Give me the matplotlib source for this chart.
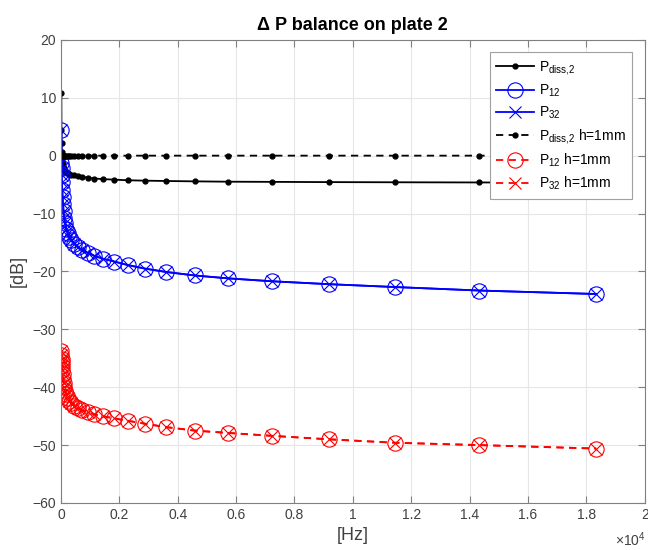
import numpy as np
import matplotlib.pyplot as plt
from matplotlib.ticker import FuncFormatter

plt.rcParams['font.family'] = ['Liberation Sans', 'DejaVu Sans']
plt.rcParams['mathtext.fontset'] = 'custom'
plt.rcParams['mathtext.rm'] = 'Liberation Sans'

# third-octave frequencies [Hz]
freq = [14.3, 18.3, 22.9, 28.7, 36.1, 45.8, 57.3, 72.2, 91.7, 115, 143, 183,
        229, 287, 361, 458, 573, 722, 917, 1146, 1433, 1834, 2292, 2865,
        3610, 4584, 5730, 7220, 9168, 11460, 14330, 18336]

# power balance [dB]
p_diss = [10.8, 4.5, 2.2, 0.6, -0.3, -1.0, -1.5, -1.9, -2.2, -2.5, -2.7, -2.9,
          -3.05, -3.2, -3.3, -3.4, -3.5, -3.65, -3.8, -3.95, -4.05, -4.15, -4.25, -4.32,
          -4.38, -4.44, -4.5, -4.53, -4.57, -4.6, -4.63, -4.66]
p12 = [4.5, -1.3, -2.2, -3.3, -4.6, -5.9, -7.1, -8.4, -9.6, -10.7, -11.7, -12.6,
       -13.4, -14.0, -14.6, -15.2, -15.8, -16.3, -16.8, -17.3, -17.8, -18.3, -18.9, -19.5,
       -20.1, -20.7, -21.2, -21.7, -22.2, -22.7, -23.3, -23.9]
p32 = [4.5, -1.3, -2.2, -3.3, -4.6, -5.9, -7.1, -8.4, -9.6, -10.7, -11.7, -12.6,
       -13.4, -14.0, -14.6, -15.2, -15.8, -16.3, -16.8, -17.3, -17.8, -18.3, -18.9, -19.5,
       -20.1, -20.7, -21.2, -21.7, -22.2, -22.7, -23.3, -23.9]

# same quantities with h = 1 mm
p_diss_h1 = [0.3, 0.2, 0.15, 0.1, 0.1, 0.05, 0.05, 0.0, 0.0, 0.0, 0.0, 0.0,
             0.0, 0.0, 0.0, 0.0, 0.0, 0.0, 0.0, 0.0, 0.0, 0.0, 0.0, 0.0,
             0.0, 0.0, 0.0, 0.0, 0.0, 0.0, 0.0, 0.0]
p12_h1 = [-33.8, -34.5, -35.1, -35.7, -36.4, -37.1, -37.8, -38.5, -39.2, -39.9, -40.6, -41.2,
          -41.8, -42.3, -42.8, -43.2, -43.6, -44.0, -44.3, -44.7, -45.0, -45.4, -45.8, -46.3,
          -46.9, -47.5, -47.9, -48.4, -49.0, -49.6, -50.0, -50.6]
p32_h1 = [-33.8, -34.5, -35.1, -35.7, -36.4, -37.1, -37.8, -38.5, -39.2, -39.9, -40.6, -41.2,
          -41.8, -42.3, -42.8, -43.2, -43.6, -44.0, -44.3, -44.7, -45.0, -45.4, -45.8, -46.3,
          -46.9, -47.5, -47.9, -48.4, -49.0, -49.6, -50.0, -50.6]

fig = plt.figure(figsize=(6.48, 5.5), dpi=100)
ax = fig.add_axes([0.094, 0.0855, 0.901, 0.842])

lw = 1.3
ax.plot(freq, p_diss, 'k.-', lw=lw, ms=7, label=r'P$_{\mathregular{diss{,}2}}$')
ax.plot(freq, p12, '-', color='#0000ff', marker='o', mfc='none', ms=11, mew=0.8, lw=lw,
        label=r'P$_{\mathregular{12}}$')
ax.plot(freq, p32, '-', color='#0000ff', marker='x', ms=9, mew=0.8, lw=lw,
        label=r'P$_{\mathregular{32}}$')
ax.plot(freq, p_diss_h1, 'k.--', lw=lw, ms=7, dashes=(4, 3),
        label=r'P$_{\mathregular{diss{,}2}}$ h=1mm')
ax.plot(freq, p12_h1, '--', color='#ff0000', marker='o', mfc='none', ms=11, mew=0.8, lw=lw,
        dashes=(4, 3), label=r'P$_{\mathregular{12}}$ h=1mm')
ax.plot(freq, p32_h1, '--', color='#ff0000', marker='x', ms=9, mew=0.8, lw=lw,
        dashes=(4, 3), label=r'P$_{\mathregular{32}}$ h=1mm')

ax.set_xlim(0, 20000)
ax.set_ylim(-60, 20)
ax.set_xticks(np.arange(0, 20001, 2000))
ax.set_yticks(np.arange(-60, 21, 10))
ax.xaxis.set_major_formatter(FuncFormatter(lambda v, p: '%g' % (v / 1e4)))
ax.grid(True, color='#e6e6e6', lw=0.8)
ax.set_axisbelow(True)

gray = '#808080'
for s in ax.spines.values():
    s.set_color(gray)
    s.set_linewidth(0.8)
ax.tick_params(direction='in', length=5, width=0.8, color=gray, labelcolor='#404040',
               labelsize=10, top=True, right=True)

ax.set_title('Δ P balance on plate 2', fontsize=13, fontweight='bold', color='#000000', pad=7)
ax.set_xlabel('[Hz]', fontsize=13, color='#404040', labelpad=4)
ax.set_ylabel('[dB]', fontsize=13, color='#404040', labelpad=4)
fig.text(0.997, 0.018, r'$\times\mathregular{10^{4}}$', ha='right', va='center',
         fontsize=10, color='#404040')

leg = ax.legend(loc='upper right', fontsize=10, frameon=True, fancybox=False,
                edgecolor='#a0a0a0', framealpha=1, handlelength=2.7, borderaxespad=0.9,
                labelspacing=0.42, borderpad=0.45, handletextpad=0.4)
leg.get_frame().set_linewidth(0.8)

plt.savefig('out.png', dpi=100)
